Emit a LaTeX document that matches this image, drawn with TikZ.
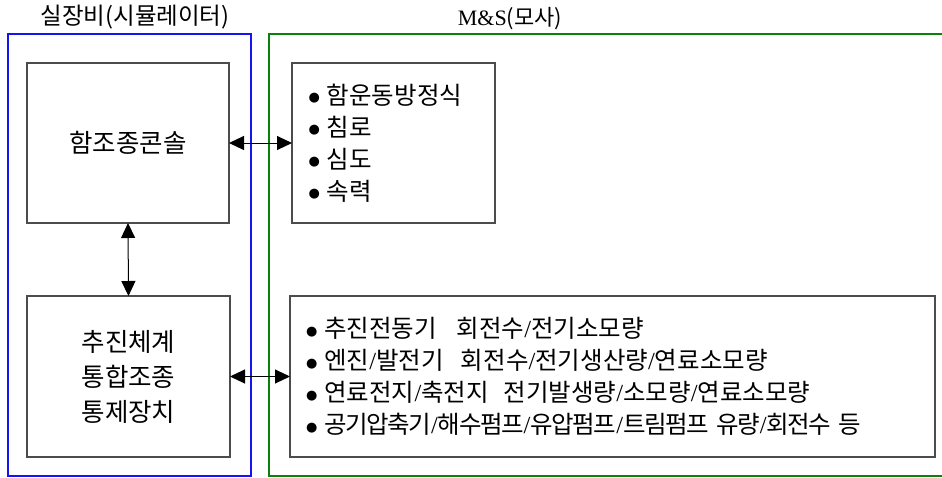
\documentclass[tikz,border=0pt]{standalone}
\usepackage{fontspec}
\setmainfont{Liberation Serif}
\newfontfamily\kr{Noto Sans CJK KR}
\newfontfamily\krc[LetterSpace=-6]{Noto Sans CJK KR}
\newfontfamily\dv{DejaVu Sans}
\usetikzlibrary{arrows.meta}
\newcommand\bul{\raisebox{2.5pt}{\dv\fontsize{13}{13}\selectfont ●}\hspace{7pt}}
\newcommand\sls{{\rmfamily/}}
\definecolor{frameblue}{RGB}{20,20,240}
\definecolor{framegreen}{RGB}{10,130,10}
\tikzset{
  frame/.style={line width=2pt},
  box/.style={draw=black!70, line width=1.3pt, inner sep=0pt, outer sep=0pt,
    font=\kr\fontsize{25.5}{35}\selectfont, align=center},
  listbox/.style={box, align=left, font=\kr\fontsize{24.5}{32}\selectfont},
  title/.style={font=\kr\fontsize{23.5}{26}\selectfont, inner sep=0pt},
  link/.style={line width=1pt, {Triangle[length=15pt,width=14pt]}-{Triangle[length=15pt,width=14pt]}}
}
\begin{document}
\begin{tikzpicture}[x=1pt,y=-1pt]
\useasboundingbox (0,0) rectangle (942,477);
\begin{scope}
\clip (0,0) rectangle (942,477);
\draw[frame, draw=frameblue] (8,34) rectangle (251,476);
\draw[frame, draw=framegreen] (269,34) rectangle (950,476);
\end{scope}
\node[title] (t1) at (135,17) {실장비(시뮬레이터)};
\node[title, font=\kr\fontsize{22}{24}\selectfont] (t2) at (510,19) {{\rmfamily M\&S}(모사)};

\node[box, minimum width=202pt, minimum height=160pt] (cons) at (128,143) {함조종콘솔};
\node[box, minimum width=203pt, minimum height=161pt] (ctrl) at (128.5,376.5) {추진체계\\통합조종\\통제장치};

\node[listbox, minimum width=203pt, minimum height=160pt, text width=170pt, inner xsep=16pt] (rtop) at (393.5,143)
  {\bul 함운동방정식\\\bul 침로\\\bul 심도\\\bul 속력};
\node[listbox, minimum width=645pt, minimum height=161pt, text width=613pt, inner xsep=15pt] (rbot) at (612.5,376.5)
  {\bul 추진전동기\hspace{0.8em}회전수\sls 전기소모량\\
   \bul 엔진\sls 발전기\hspace{0.7em}회전수\sls 전기생산량\sls 연료소모량\\
   \bul 연료전지\sls 축전지\hspace{0.6em}전기발생량\sls 소모량\sls 연료소모량\\
   \bul {\krc 공기압축기\sls 해수펌프\sls 유압펌프\sls 트림펌프\hspace{0.3em}유량\sls 회전수\hspace{0.3em}등}};

\draw[link] (cons.east) -- (rtop.west);
\draw[link] (ctrl.east) -- (rbot.west);
\draw[link] (cons.south) -- (ctrl.north);
\end{tikzpicture}
\end{document}
